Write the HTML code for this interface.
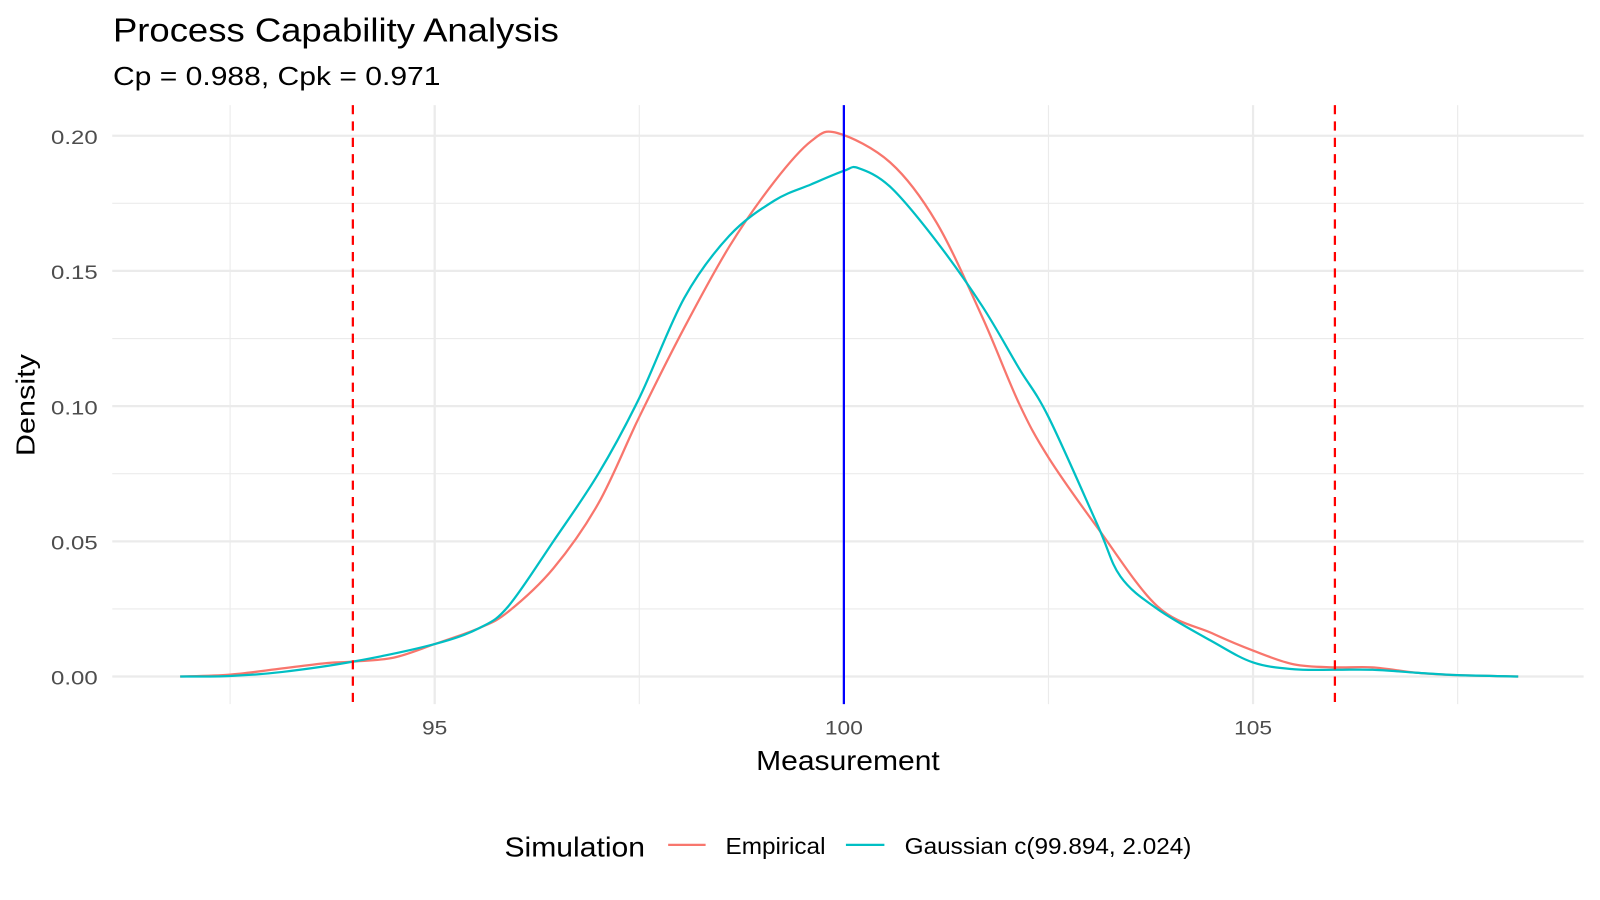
<!DOCTYPE html>
<html><head><meta charset="utf-8"><style>
body{margin:0;background:#fff;}
svg{display:block;font-family:"Liberation Sans",Arial,sans-serif;}
</style></head><body>
<svg id="chart" width="1600" height="900" viewBox="0 0 1568 882">
<text x="110.7" y="40.8" font-size="32.3" textLength="437" lengthAdjust="spacingAndGlyphs" fill="#000">Process Capability Analysis</text>
<text x="110.7" y="83.3" font-size="25" textLength="321" lengthAdjust="spacingAndGlyphs" fill="#000">Cp = 0.988, Cpk = 0.971</text>
<g id="grid"></g>
<g id="marks"></g>
<g id="ticks"></g>
<text x="741" y="754.6" font-size="27.4" textLength="180" lengthAdjust="spacingAndGlyphs" fill="#000">Measurement</text>
<text transform="translate(34,447) rotate(-90)" font-size="25" textLength="100" lengthAdjust="spacingAndGlyphs" fill="#000">Density</text>
<g>
<text x="494.4" y="839.5" font-size="27.4" textLength="137.7" lengthAdjust="spacingAndGlyphs" fill="#000">Simulation</text>
<line x1="654.8" y1="828" x2="691.5" y2="828" stroke="#F8766D" stroke-width="2.2"/>
<text x="711" y="837" font-size="22.8" textLength="98" lengthAdjust="spacingAndGlyphs" fill="#000">Empirical</text>
<line x1="829" y1="828" x2="866.7" y2="828" stroke="#00BFC4" stroke-width="2.2"/>
<text x="886.6" y="837" font-size="22.8" textLength="281" lengthAdjust="spacingAndGlyphs" fill="#000">Gaussian c(99.894, 2.024)</text>
</g>
</svg>
<script>
const empX=[91.89,92.5,93.14,93.69,94.0,94.5,95.0,95.55,95.9,96.45,97.0,97.5,98.05,98.6,99.15,99.6,99.92,100.57,101.13,101.69,102.14,102.5,103.1,103.83,104.5,105.0,105.5,106.0,106.46,107.0,107.5,108.24];
const empY=[0,0.0007,0.003,0.005,0.0055,0.007,0.012,0.018,0.024,0.040,0.064,0.096,0.129,0.159,0.183,0.198,0.201,0.190,0.168,0.133,0.101,0.081,0.055,0.026,0.016,0.0096,0.0045,0.0034,0.0034,0.0014,0.0005,0];
const gauX=[91.89,92.5,93.14,94.0,95.0,95.55,95.9,96.45,97.0,97.5,98.05,98.6,99.15,99.6,100.0,100.18,100.57,101.13,101.69,102.14,102.5,103.1,103.38,103.83,104.5,105.0,105.5,106.0,106.46,107.0,107.5,108.24];
const gauY=[0,0.0002,0.0017,0.0055,0.012,0.018,0.026,0.050,0.075,0.103,0.140,0.163,0.176,0.182,0.187,0.188,0.181,0.161,0.137,0.114,0.096,0.056,0.037,0.025,0.013,0.0052,0.0027,0.0025,0.0025,0.0014,0.0005,0];
const xTicks=[95,100,105];
const xMinor=[92.5,97.5,102.5,107.5];
const yTicks=[0,0.05,0.10,0.15,0.20];
const yTickLabels=["0.00","0.05","0.10","0.15","0.20"];
const yMinor=[0.025,0.075,0.125,0.175];
const specLimits=[94,106];
const target=[100];
const NS='http://www.w3.org/2000/svg';
const X=v=>827+(v-100)*80.2;
const Y=v=>663-v*2650;
const L=110,R=1552,T=103,B=690;
function mk(tag,attrs,parent){const e=document.createElementNS(NS,tag);for(const k in attrs)e.setAttribute(k,attrs[k]);parent.appendChild(e);return e;}
const grid=document.getElementById('grid'),marks=document.getElementById('marks'),ticks=document.getElementById('ticks');
yMinor.forEach(v=>{const e=mk('line',{x1:L,x2:R,y1:Y(v),y2:Y(v),stroke:'#ebebeb','stroke-width':1.1},grid);

});
xMinor.forEach(v=>{const e=mk('line',{x1:X(v),x2:X(v),y1:T,y2:B,stroke:'#ebebeb','stroke-width':1.1},grid);

});
yTicks.forEach((v,i)=>{const e=mk('line',{x1:L,x2:R,y1:Y(v),y2:Y(v),stroke:'#ebebeb','stroke-width':2.2},grid);


const t=mk('text',{x:95.7,y:Y(v)+8,'font-size':19,'text-anchor':'end',textLength:45.7,lengthAdjust:'spacingAndGlyphs',fill:'#4d4d4d'},ticks);t.textContent=yTickLabels[i];

});
xTicks.forEach(v=>{const e=mk('line',{x1:X(v),x2:X(v),y1:T,y2:B,stroke:'#ebebeb','stroke-width':2.2},grid);


const lab=String(v);const w=lab.length*12.4;
const t=mk('text',{x:X(v)-w/2,y:720,'font-size':19,textLength:w,lengthAdjust:'spacingAndGlyphs',fill:'#4d4d4d'},ticks);t.textContent=lab;

});
function path(xs,ys){const p=xs.map((x,i)=>[X(x),Y(ys[i])]);let d='M'+p[0][0]+','+p[0][1];
for(let i=0;i<p.length-1;i++){const p0=p[Math.max(i-1,0)],p1=p[i],p2=p[i+1],p3=p[Math.min(i+2,p.length-1)];
const c1=[p1[0]+(p2[0]-p0[0])/6,p1[1]+(p2[1]-p0[1])/6],c2=[p2[0]-(p3[0]-p1[0])/6,p2[1]-(p3[1]-p1[1])/6];
d+=' C'+c1.join(',')+' '+c2.join(',')+' '+p2.join(',');}return d;}
const pe=mk('path',{d:path(empX,empY),fill:'none',stroke:'#F8766D','stroke-width':2.2},marks);


const pg=mk('path',{d:path(gauX,gauY),fill:'none',stroke:'#00BFC4','stroke-width':2.2},marks);


specLimits.forEach(v=>{const e=mk('line',{x1:X(v),x2:X(v),y1:T,y2:B,stroke:'#ff0000','stroke-width':2.2,'stroke-dasharray':'9,7'},marks);

});
target.forEach(v=>{const e=mk('line',{x1:X(v),x2:X(v),y1:T,y2:B,stroke:'#0000ff','stroke-width':2.2},marks);

});
</script>
</body></html>
